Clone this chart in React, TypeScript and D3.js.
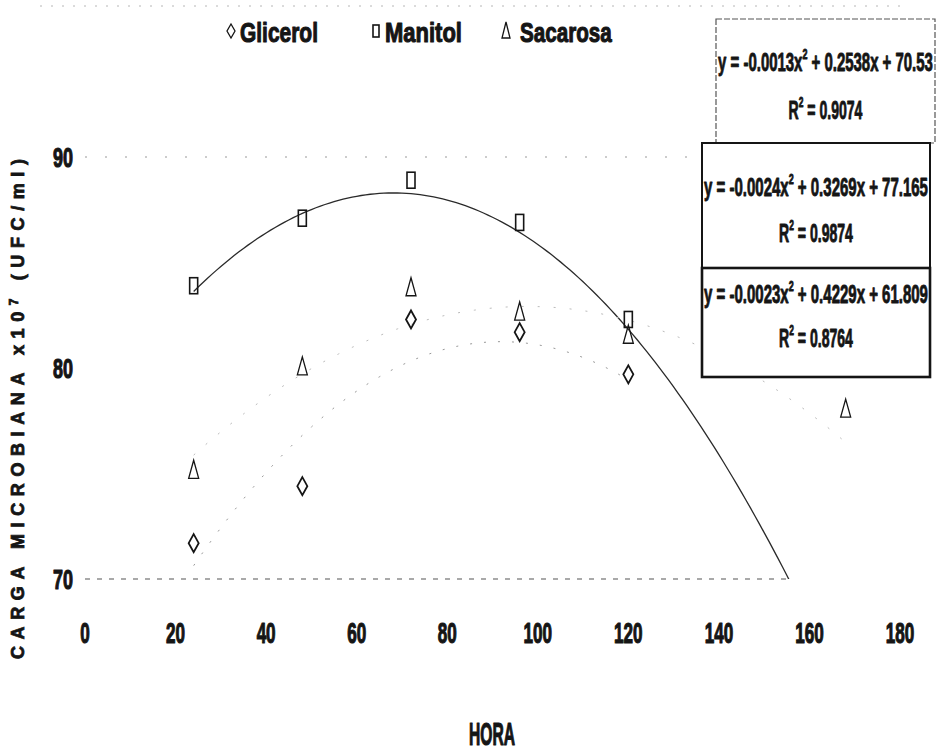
import { useLayoutEffect, useRef, useState } from 'react';
import * as d3 from 'd3';

// data
const HOURS = [24, 48, 72, 96, 120];
const GLICEROL = [71.7, 74.4, 82.3, 81.7, 79.7];
const MANITOL = [83.9, 87.1, 88.9, 86.9, 82.3];
const SACAROSA_HOURS = [24, 48, 72, 96, 120, 168];
const SACAROSA = [75.2, 80.1, 83.85, 82.7, 81.6, 78.1];

const X_TICKS = [0, 20, 40, 60, 80, 100, 120, 140, 160, 180];
const Y_TICKS = [70, 80, 90];

// polynomial trend lines [a, b, c] for y = a x^2 + b x + c
const TREND_SACAROSA = [-0.0013, 0.2538, 70.53];
const TREND_MANITOL = [-0.0024, 0.3269, 77.165];
const TREND_GLICEROL = [-0.0023, 0.4229, 61.809];

const EQ_A = ['-0.0013', '-0.0024', '-0.0023'];
const EQ_REST = [' + 0.2538x + 70.53', ' + 0.3269x + 77.165', ' + 0.4229x + 61.809'];
const EQ_R2 = ['0.9074', '0.9874', '0.8764'];

const WIDTH = 939;
const HEIGHT = 750;
const FONT = '"Liberation Sans", Arial, sans-serif';
const INK = '#151515';

const xScale = d3.scaleLinear().domain([0, 180]).range([85, 900]);
const yScale = d3.scaleLinear().domain([70, 90]).range([579, 157]);

const poly = (c: number[]) => (x: number) => c[0] * x * x + c[1] * x + c[2];

const trendPath = (c: number[], from: number, to: number) => {
    const f = poly(c);
    const pts = d3.range(from, to + 0.5, 1).map((x) => [x, f(x)] as [number, number]);
    return (
        d3
            .line<[number, number]>()
            .x((d) => xScale(d[0]))
            .y((d) => yScale(d[1]))(pts) || ''
    );
};

// text squeezed horizontally to a given width (the scan has very narrow, heavy lettering)
const FitText = ({
    x,
    y,
    width,
    size,
    anchor = 'middle',
    heavy = 0.7,
    children,
}: {
    x: number;
    y: number;
    width: number;
    size: number;
    anchor?: 'start' | 'middle' | 'end';
    heavy?: number;
    children: React.ReactNode;
}) => {
    const ref = useRef<SVGTextElement>(null);
    const [sx, setSx] = useState(1);
    useLayoutEffect(() => {
        if (ref.current) {
            const w = ref.current.getBBox().width;
            if (w > 0) setSx(width / w);
        }
    }, [width, size]);
    return (
        <g transform={`translate(${x},${y}) scale(${sx},1)`}>
            <text
                ref={ref}
                x={0}
                y={0}
                fontSize={size}
                textAnchor={anchor}
                fill={INK}
                stroke={INK}
                strokeWidth={heavy}
                strokeLinejoin="round"
            >
                {children}
            </text>
        </g>
    );
};

const Diamond = ({ x, y, w = 5, h = 9, sw = 1.8 }: { x: number; y: number; w?: number; h?: number; sw?: number }) => (
    <path
        d={`M${x},${y - h} L${x + w},${y} L${x},${y + h} L${x - w},${y} Z`}
        fill="none"
        stroke={INK}
        strokeWidth={sw}
    />
);

const Square = ({ x, y, w = 4, h = 8 }: { x: number; y: number; w?: number; h?: number }) => (
    <rect x={x - w} y={y - h} width={w * 2} height={h * 2} fill="none" stroke={INK} strokeWidth={1.6} />
);

const Triangle = ({ x, y, w = 5, h = 9 }: { x: number; y: number; w?: number; h?: number }) => (
    <path
        d={`M${x},${y - h} L${x + w},${y + h} L${x - w},${y + h} Z`}
        fill="none"
        stroke={INK}
        strokeWidth={1.3}
    />
);

const BOXES = [
    { x0: 716, x1: 935, y0: 19, y1: 143, eq: 71, r: 119, dashed: true, sw: 1.2 },
    { x0: 702, x1: 930, y0: 143, y1: 268, eq: 196, r: 242, dashed: false, sw: 2 },
    { x0: 702, x1: 930, y0: 268, y1: 377, eq: 303, r: 347, dashed: false, sw: 2.6 },
];

const App = () => {
    const plotTop = yScale(90);
    const plotBottom = yScale(70);

    return (
        <svg
            width={WIDTH}
            height={HEIGHT}
            style={{ position: 'absolute', left: 0, top: 0, background: '#fff' }}
            fontFamily={FONT}
            fontWeight="bold"
        >
            <defs>
                <clipPath id="plot">
                    <rect x={xScale(0)} y={0} width={xScale(180) - xScale(0)} height={plotBottom} />
                </clipPath>
            </defs>

            {/* scan remnants of the chart border */}
            <line x1={40} x2={900} y1={6} y2={6} stroke="#888" strokeWidth={1} strokeDasharray="2 9" opacity={0.6} />

            {/* gridline at 90 and the axis at 70 */}
            <line
                x1={xScale(0)}
                x2={xScale(180)}
                y1={plotTop}
                y2={plotTop}
                stroke="#999"
                strokeWidth={1}
                strokeDasharray="2 18"
            />
            <line
                x1={xScale(0)}
                x2={xScale(155)}
                y1={plotBottom}
                y2={plotBottom}
                stroke="#555"
                strokeWidth={1.2}
                strokeDasharray="5 7"
            />

            {/* trend lines */}
            <g clipPath="url(#plot)" fill="none">
                <path d={trendPath(TREND_MANITOL, 24, 170)} stroke="#2a2a2a" strokeWidth={1.3} />
                <path
                    d={trendPath(TREND_GLICEROL, 24, 120)}
                    stroke="#999"
                    strokeWidth={1}
                    strokeDasharray="2 12"
                />
                <path
                    d={trendPath(TREND_SACAROSA, 24, 168)}
                    stroke="#bbb"
                    strokeWidth={1}
                    strokeDasharray="2 14"
                />
            </g>

            {/* points */}
            <g>
                {HOURS.map((h, i) => (
                    <Square key={`m${i}`} x={xScale(h)} y={yScale(MANITOL[i])} />
                ))}
                {HOURS.map((h, i) => (
                    <Diamond key={`g${i}`} x={xScale(h)} y={yScale(GLICEROL[i])} />
                ))}
                {SACAROSA_HOURS.map((h, i) => (
                    <Triangle key={`s${i}`} x={xScale(h)} y={yScale(SACAROSA[i])} />
                ))}
            </g>

            {/* tick labels */}
            {X_TICKS.map((t) => (
                <FitText key={`x${t}`} x={xScale(t)} y={643} size={29} width={String(t).length * 9.5} heavy={1.2}>
                    {t}
                </FitText>
            ))}
            {Y_TICKS.map((t) => (
                <FitText key={`y${t}`} x={63} y={yScale(t) + 10} size={28} width={20} heavy={1.2}>
                    {t}
                </FitText>
            ))}

            {/* axis titles */}
            <FitText x={492} y={745} size={31} width={46} heavy={1.2}>
                HORA
            </FitText>
            <text
                transform={`translate(24, ${409}) rotate(-90)`}
                fontSize={18}
                textAnchor="middle"
                textLength={500}
                lengthAdjust="spacing"
                fill={INK}
                stroke={INK}
                strokeWidth={0.8}
            >
                CARGA MICROBIANA x10<tspan dy={-6} fontSize={12}>7</tspan>
                <tspan dy={6}> (UFC/ml)</tspan>
            </text>

            {/* legend */}
            <g>
                <Diamond x={231} y={31} w={4} h={7} sw={1.3} />
                <FitText x={240} y={42} size={28} width={78} anchor="start" heavy={1.1}>
                    Glicerol
                </FitText>
                <Square x={376} y={31} w={3} h={6} />
                <FitText x={385} y={42} size={28} width={77} anchor="start" heavy={1.1}>
                    Manitol
                </FitText>
                <Triangle x={506} y={30} w={4} h={8} />
                <FitText x={520} y={42} size={28} width={92} anchor="start" heavy={1.1}>
                    Sacarosa
                </FitText>
            </g>

            {/* equation boxes */}
            {BOXES.map((b, i) => (
                <rect
                    key={`box${i}`}
                    x={b.x0}
                    y={b.y0}
                    width={b.x1 - b.x0}
                    height={b.y1 - b.y0}
                    fill="#fff"
                    stroke={b.dashed ? '#555' : INK}
                    strokeWidth={b.sw}
                    strokeDasharray={b.dashed ? '6 2' : undefined}
                />
            ))}
            {BOXES.map((b, i) => {
                const cx = (b.x0 + b.x1) / 2;
                return (
                    <g key={`eq${i}`}>
                        <FitText x={cx} y={b.eq} size={25} width={b.x1 - b.x0 - 4} heavy={0.9}>
                            {`y = ${EQ_A[i]}x`}
                            <tspan dy={-12} fontSize={15}>
                                2
                            </tspan>
                            <tspan dy={12}>{EQ_REST[i]}</tspan>
                        </FitText>
                        <FitText x={cx} y={b.r} size={25} width={74} heavy={0.9}>
                            R<tspan dy={-12} fontSize={15}>2</tspan>
                            <tspan dy={12}>{` = ${EQ_R2[i]}`}</tspan>
                        </FitText>
                    </g>
                );
            })}
        </svg>
    );
};

export default App;
